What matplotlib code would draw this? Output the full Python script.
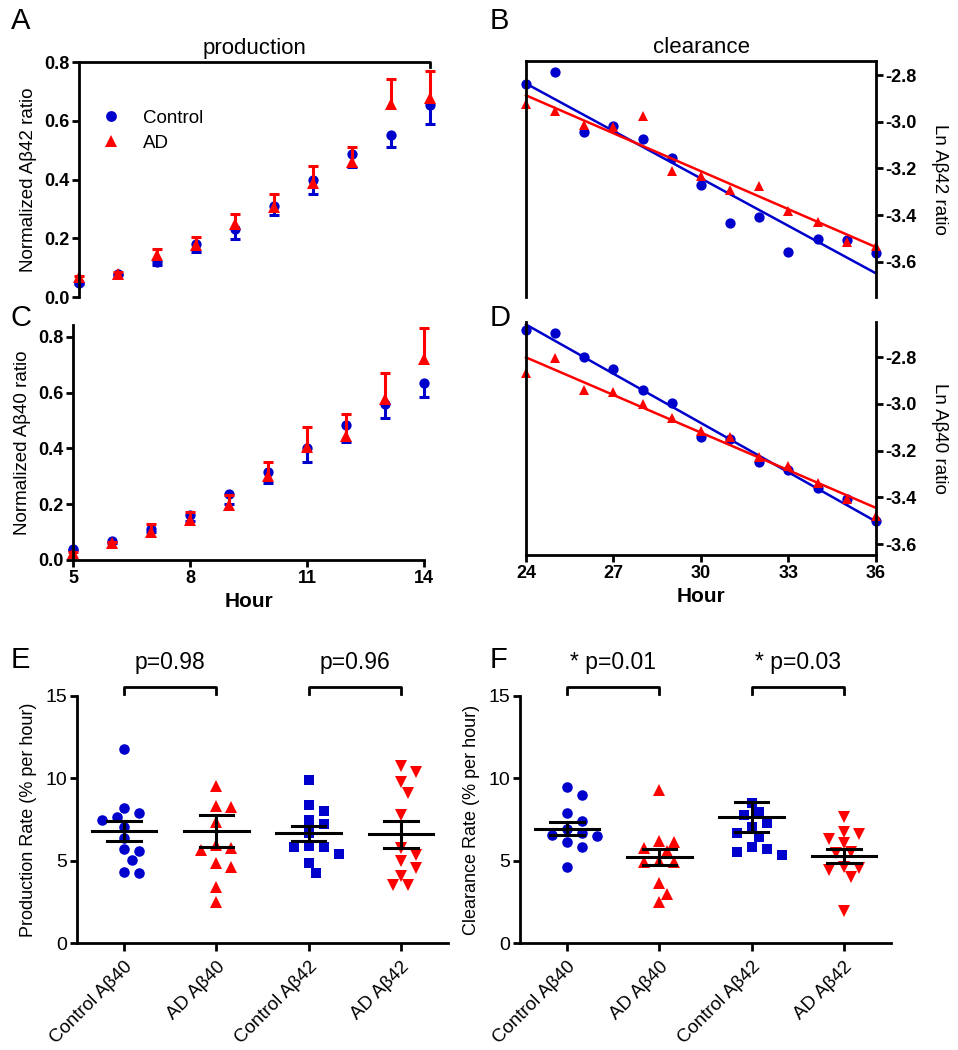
import matplotlib
matplotlib.use("Agg")
import matplotlib.pyplot as plt
from matplotlib.lines import Line2D
import numpy as np

plt.rcParams['font.family'] = ['Liberation Sans', 'DejaVu Sans']
plt.rcParams['axes.unicode_minus'] = False
BLUE = "#0000cd"; RED = "#ff0000"; K = "#000000"

# ---------- data: production curves (A = Abeta42, C = Abeta40) ----------
prod_hours = [5, 6, 7, 8, 9, 10, 11, 12, 13, 14]
a42_ctrl = [0.048, 0.080, 0.120, 0.182, 0.230, 0.310, 0.397, 0.486, 0.551, 0.653]
a42_ctrl_err = [0.005, 0.005, 0.010, 0.028, 0.032, 0.031, 0.047, 0.042, 0.042, 0.065]
a42_ad = [0.068, 0.080, 0.142, 0.176, 0.250, 0.307, 0.389, 0.459, 0.658, 0.679]
a42_ad_err = [0.005, 0.005, 0.023, 0.029, 0.034, 0.043, 0.058, 0.053, 0.085, 0.089]
a40_ctrl = [0.041, 0.067, 0.110, 0.162, 0.236, 0.315, 0.401, 0.484, 0.558, 0.634]
a40_ctrl_err = [0.005, 0.005, 0.010, 0.021, 0.036, 0.040, 0.050, 0.059, 0.047, 0.051]
a40_ad = [0.024, 0.060, 0.100, 0.143, 0.197, 0.301, 0.406, 0.444, 0.579, 0.722]
a40_ad_err = [0.005, 0.005, 0.028, 0.029, 0.036, 0.049, 0.072, 0.081, 0.091, 0.110]

# ---------- data: clearance (B = Abeta42, D = Abeta40) ----------
clear_hours = [24, 25, 26, 27, 28, 29, 30, 31, 32, 33, 34, 35, 36]
b42_ctrl = [-2.840, -2.787, -3.043, -3.018, -3.075, -3.154, -3.271, -3.433, -3.409, -3.556, -3.502, -3.505, -3.562]
b42_ad = [-2.924, -2.954, -3.015, -3.023, -2.975, -3.210, -3.231, -3.294, -3.273, -3.381, -3.429, -3.516, -3.530]
d40_ctrl = [-2.683, -2.697, -2.800, -2.851, -2.940, -2.998, -3.144, -3.151, -3.251, -3.285, -3.360, -3.407, -3.503]
d40_ad = [-2.868, -2.804, -2.943, -2.950, -3.000, -3.061, -3.115, -3.140, -3.228, -3.268, -3.339, -3.406, -3.482]

# ---------- data: rates (E = production, F = clearance) ----------
groups = ["Control A\u03b240", "AD A\u03b240", "Control A\u03b242", "AD A\u03b242"]
e_ctrl40 = [11.8, 8.21, 7.9, 7.66, 7.5, 7.06, 6.39, 5.68, 5.57, 5.07, 4.32, 4.26]
e_ad40 = [9.53, 8.32, 8.26, 7.35, 5.95, 5.77, 5.65, 4.86, 4.61, 3.40, 2.49]
e_ctrl42 = [9.89, 8.41, 8.01, 7.46, 7.2, 6.71, 5.9, 5.84, 5.8, 5.43, 4.87, 4.28]
e_ad42 = [10.76, 10.4, 9.75, 9.12, 7.8, 5.78, 5.37, 4.97, 4.58, 4.05, 3.51, 3.51]
e_means = [6.80, 6.80, 6.66, 6.60]
e_sems = [0.59, 1.00, 0.47, 0.81]
e_pvals = ["p=0.98", "p=0.96"]
f_ctrl40 = [9.47, 8.99, 7.89, 7.41, 6.92, 6.68, 6.56, 6.5, 6.13, 5.83, 4.61]
f_ad40 = [9.29, 6.19, 6.13, 5.77, 5.59, 4.98, 4.92, 4.92, 3.64, 2.98, 2.49]
f_ctrl42 = [8.5, 7.95, 7.77, 7.29, 7.04, 6.68, 6.44, 5.83, 5.71, 5.53, 5.34]
f_ad42 = [7.65, 6.74, 6.62, 6.31, 6.07, 5.53, 5.46, 4.61, 4.55, 4.43, 4.0, 1.94]
f_means = [6.94, 5.22, 7.65, 5.28]
f_sems = [0.39, 0.51, 0.91, 0.45]
f_pvals = ["* p=0.01", "* p=0.03"]

W, H = 958, 1050
fig = plt.figure(figsize=(W / 100, H / 100), dpi=100)

def px_axes(l, t, r, b):
    return fig.add_axes([l / W, 1 - b / H, (r - l) / W, (b - t) / H])

def bold_ticks(ax):
    for lb in ax.get_xticklabels() + ax.get_yticklabels():
        lb.set_fontweight("bold")

def noclip(ax):
    for a in ax.lines + ax.collections:
        a.set_clip_on(False)

def letter(x, y, s):
    fig.text(x / W, 1 - y / H, s, fontsize=21, ha="left", va="center")

def one_sided(ax, x, y, err, sign, color, marker, ms):
    end = np.array(y) + sign * np.array(err)
    ax.vlines(x, y, end, color=color, lw=2.2)
    ax.plot(x, end, "_", color=color, ms=7, mew=2.2)
    ax.plot(x, y, marker, color=color, ms=ms, ls="none", mew=0)

def production(ax, ctrl, cerr, ad, aerr):
    one_sided(ax, prod_hours, ctrl, cerr, -1, BLUE, "o", 7.4)
    one_sided(ax, prod_hours, ad, aerr, 1, RED, "^", 8.2)
    noclip(ax)
    ax.set_xlim(5, 14)
    for s in ["top", "right"]:
        ax.spines[s].set_visible(False)
    ax.spines["left"].set_linewidth(2)
    ax.spines["bottom"].set_linewidth(2)
    ax.tick_params(width=2, length=5, labelsize=13, pad=2)
    ax.set_yticks([0, 0.2, 0.4, 0.6, 0.8])

def clearance(ax, ctrl, ad):
    x = np.array(clear_hours)
    for y, c, m, ms in [(ctrl, BLUE, "o", 7.4), (ad, RED, "^", 7.8)]:
        ax.plot(x, y, m, color=c, ms=ms, ls="none", mew=0)
        k, b0 = np.polyfit(x, y, 1)
        xx = np.array([x.min(), x.max()])
        ax.plot(xx, k * xx + b0, color=c, lw=1.8)
    noclip(ax)
    ax.set_xlim(24, 36)
    ax.yaxis.tick_right()
    ax.yaxis.set_label_position("right")
    for s in ax.spines.values():
        s.set_linewidth(2)
    ax.tick_params(width=2, length=5, labelsize=13, pad=2)
    ax.set_yticks([-2.8, -3.0, -3.2, -3.4, -3.6])

# ---------- A ----------
axA = px_axes(79, 62, 430, 297)
production(axA, a42_ctrl, a42_ctrl_err, a42_ad, a42_ad_err)
axA.set_ylim(0, 0.8)
axA.spines["bottom"].set_visible(False)
axA.set_xticks([])
axA.plot([5, 14, 14], [0.8, 0.8, 0.783], color=K, lw=2, clip_on=False)
axA.set_title("production", fontsize=16, pad=6)
axA.set_ylabel("Normalized A\u03b242 ratio", fontsize=13.5, labelpad=5)
leg_h = [Line2D([], [], marker="o", color=BLUE, ls="none", ms=7.8, mew=0),
         Line2D([], [], marker="^", color=RED, ls="none", ms=8.2, mew=0)]
axA.legend(leg_h, ["Control", "AD"], loc="upper left", bbox_to_anchor=(0.0, 0.87),
           frameon=False, fontsize=13.5, handletextpad=0.9, labelspacing=0.42,
           handlelength=1.6)
bold_ticks(axA)

# ---------- C ----------
axC = px_axes(73, 325, 424, 560)
production(axC, a40_ctrl, a40_ctrl_err, a40_ad, a40_ad_err)
axC.set_ylim(0, 0.843)
axC.set_xticks([5, 8, 11, 14])
axC.set_ylabel("Normalized A\u03b240 ratio", fontsize=13.5, labelpad=5)
axC.set_xlabel("Hour", fontsize=15, fontweight="bold", labelpad=4)
bold_ticks(axC)

# ---------- B ----------
axB = px_axes(526, 61, 876, 297)
clearance(axB, b42_ctrl, b42_ad)
axB.set_ylim(-3.75, -2.74)
axB.spines["bottom"].set_visible(False)
axB.set_xticks([])
axB.set_title("clearance", fontsize=16, pad=6)
axB.set_ylabel("Ln A\u03b242 ratio", fontsize=13.5, rotation=270, labelpad=22)
bold_ticks(axB)

# ---------- D ----------
axD = px_axes(526, 322, 876, 555)
clearance(axD, d40_ctrl, d40_ad)
axD.set_ylim(-3.647, -2.65)
axD.spines["top"].set_visible(False)
axD.set_xticks([24, 27, 30, 33, 36])
axD.set_ylabel("Ln A\u03b240 ratio", fontsize=13.5, rotation=270, labelpad=22)
axD.set_xlabel("Hour", fontsize=15, fontweight="bold", labelpad=4)
bold_ticks(axD)

# ---------- E / F ----------
def swarm_x(ax, vals, x0, d=11.0, step=7.5):
    placed, xs = [], []
    inv = ax.transData.inverted()
    for v in vals:
        px, py = ax.transData.transform((x0, v))
        for k in [0, 1, -1, 2, -2, 3, -3, 4, -4, 5, -5]:
            ox = k * step
            if all((ox - a) ** 2 + (py - b) ** 2 >= d * d for a, b in placed):
                break
        placed.append((ox, py))
        xs.append(inv.transform((px + ox, py))[0])
    return xs

def rates(ax, series, means, sems, pvals, ylabel):
    ax.set_xlim(-0.51, 3.51)
    ax.set_ylim(0, 15)
    styles = [("o", BLUE, 7.6), ("^", RED, 8.4), ("s", BLUE, 7.0), ("v", RED, 8.4)]
    for i, (vals, (m, c, ms)) in enumerate(zip(series, styles)):
        xs = swarm_x(ax, vals, i)
        ax.plot(xs, vals, m, color=c, ms=ms, ls="none", mew=0)
    for i, (mu, se) in enumerate(zip(means, sems)):
        ax.plot([i - 0.35, i + 0.35], [mu, mu], color=K, lw=2.2)
        ax.plot([i, i], [mu - se, mu + se], color=K, lw=2.2)
        ax.plot([i - 0.18, i + 0.18], [mu + se, mu + se], color=K, lw=2.2)
        ax.plot([i - 0.18, i + 0.18], [mu - se, mu - se], color=K, lw=2.2)
    for (i, j), p in zip([(0, 1), (2, 3)], pvals):
        ax.plot([i, i, j, j], [15.1, 15.55, 15.55, 15.1], color=K, lw=2, clip_on=False)
        ax.text((i + j) / 2, 17.05, p, ha="center", va="center", fontsize=16.5)
    for s in ["top", "right"]:
        ax.spines[s].set_visible(False)
    ax.spines["left"].set_linewidth(2)
    ax.spines["bottom"].set_linewidth(2)
    ax.set_yticks([0, 5, 10, 15])
    ax.set_xticks(range(len(groups)))
    ax.set_xticklabels(groups, rotation=45, ha="right", va="top",
                       rotation_mode="anchor", fontsize=13.5)
    ax.tick_params(axis="y", width=2, length=5, labelsize=14, pad=2)
    ax.tick_params(axis="x", width=2, length=6, pad=5)
    ax.set_ylabel(ylabel, fontsize=13, labelpad=6)

axE = px_axes(77, 696, 448, 943)
rates(axE, [e_ctrl40, e_ad40, e_ctrl42, e_ad42], e_means, e_sems, e_pvals,
      "Production Rate (% per hour)")
axF = px_axes(520, 696, 891, 943)
rates(axF, [f_ctrl40, f_ad40, f_ctrl42, f_ad42], f_means, f_sems, f_pvals,
      "Clearance Rate (% per hour)")

letter(11, 21, "A"); letter(490, 21, "B")
letter(11, 318, "C"); letter(490, 318, "D")
letter(11, 660, "E"); letter(490, 660, "F")

fig.savefig("out.png", dpi=100, facecolor="white")
